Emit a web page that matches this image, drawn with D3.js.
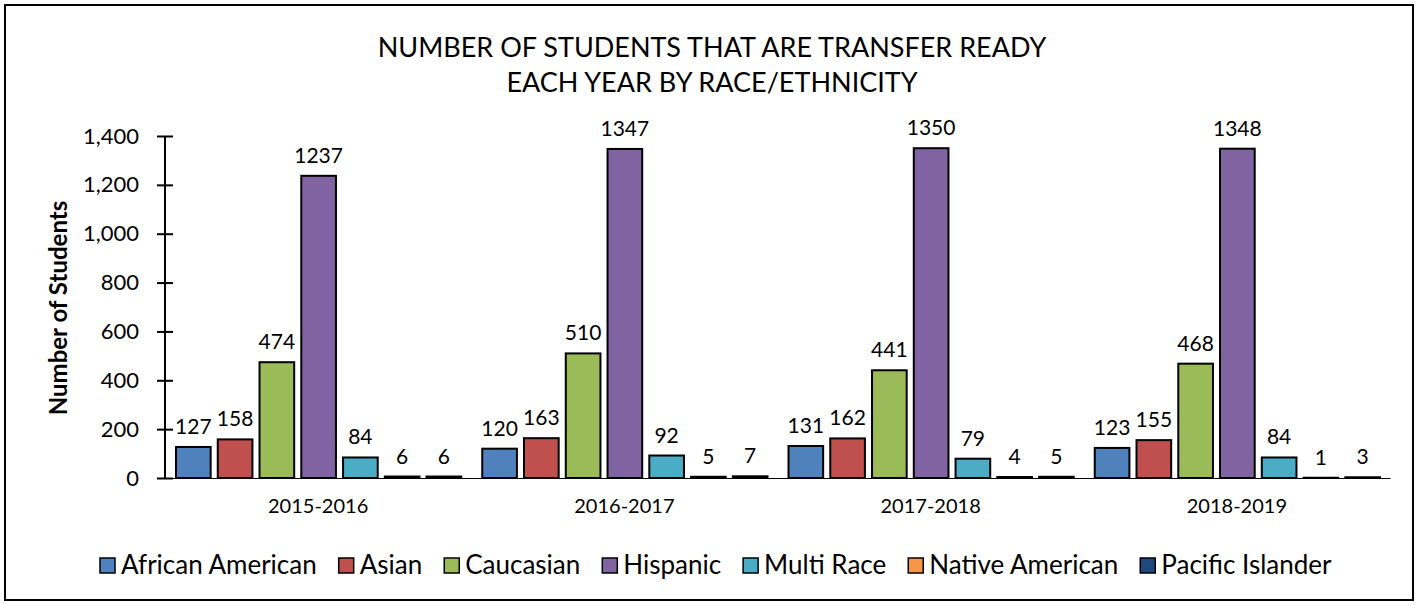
<!DOCTYPE html>
<html lang="en">
<head>
  <meta charset="UTF-8">
  <title>Number of Students That Are Transfer Ready</title>
  <script src="https://d3js.org/d3.v7.min.js"></script>
  <style>
    body { margin: 0; background: #fff; font-family: 'Lato', 'Open Sans', sans-serif; }
    svg { display: block; }
  </style>
</head>
<body>
  <div id="chart"></div>
  <script>
    // Data
    const years = ["2015-2016", "2016-2017", "2017-2018", "2018-2019"];
    const groups = ["African American", "Asian", "Caucasian", "Hispanic", "Multi Race", "Native American", "Pacific Islander"];
    const colors = ["#4F81BD", "#C0504D", "#9BBB59", "#8064A2", "#4BACC6", "#F79646", "#1F497D"];
    const africanAmerican = [127, 120, 131, 123];
    const asian = [158, 163, 162, 155];
    const caucasian = [474, 510, 441, 468];
    const hispanic = [1237, 1347, 1350, 1348];
    const multiRace = [84, 92, 79, 84];
    const nativeAmerican = [6, 5, 4, 1];
    const pacificIslander = [6, 7, 5, 3];
    const yTicks = [0, 200, 400, 600, 800, 1000, 1200, 1400];

    const series = [africanAmerican, asian, caucasian, hispanic, multiRace, nativeAmerican, pacificIslander];

    const W = 1420, H = 605;
    const margin = { top: 136, right: 30, bottom: 127, left: 165 };
    const width = 1390 - margin.left, height = 478 - margin.top;

    const svg = d3.select("#chart").append("svg")
      .attr("width", W).attr("height", H);

    // outer border
    svg.append("rect")
      .attr("x", 5).attr("y", 5).attr("width", 1408).attr("height", 595)
      .attr("fill", "none").attr("stroke", "#000").attr("stroke-width", 2);

    // title
    const title = svg.append("text")
      .attr("text-anchor", "middle")
      .attr("font-size", 27)
      .attr("fill", "#000");
    title.append("tspan").attr("x", 712).attr("y", 57).text("NUMBER OF STUDENTS THAT ARE TRANSFER READY");
    title.append("tspan").attr("x", 712).attr("y", 92).text("EACH YEAR BY RACE/ETHNICITY");

    const g = svg.append("g").attr("transform", `translate(${margin.left},${margin.top})`);

    const x0 = d3.scaleBand().domain(years).range([0, width]).paddingInner(0).paddingOuter(0);
    const x1 = d3.scaleBand().domain(groups).range([11, x0.bandwidth() - 10]).paddingInner(0.17);
    const y = d3.scaleLinear().domain([0, 1400]).range([height, 0]);

    // y axis
    const yAxis = g.append("g")
      .call(d3.axisLeft(y).tickValues(yTicks).tickFormat(d3.format(",")).tickSize(8).tickPadding(18));
    yAxis.selectAll(".tick line").attr("x2", 8).attr("x1", -8).attr("stroke-width", 2);
    yAxis.select(".domain").attr("d", `M0,${height}V0`).attr("stroke-width", 2);
    yAxis.selectAll("text").attr("font-size", 22).attr("fill", "#000").attr("font-family", "Lato, sans-serif");

    // x axis
    const xAxis = g.append("g")
      .attr("transform", `translate(0,${height})`)
      .call(d3.axisBottom(x0).tickSize(0).tickPadding(21));
    xAxis.select(".domain").attr("stroke", "#000").attr("stroke-width", 1.2);
    xAxis.selectAll("text").attr("font-size", 20).attr("fill", "#000").attr("font-family", "Lato, sans-serif");

    // y axis title
    svg.append("text")
      .attr("transform", `translate(67,${margin.top + 172}) rotate(-90)`)
      .attr("text-anchor", "middle")
      .attr("font-size", 24).attr("font-weight", "bold")
      .text("Number of Students");

    // bars
    const yearG = g.selectAll(".year").data(years).join("g")
      .attr("class", "year")
      .attr("transform", d => `translate(${x0(d)},0)`);

    yearG.selectAll("rect")
      .data((yr, i) => groups.map((name, k) => ({ name, k, value: series[k][i] })))
      .join("rect")
      .attr("x", d => x1(d.name))
      .attr("y", d => y(d.value))
      .attr("width", x1.bandwidth())
      .attr("height", d => height - y(d.value))
      .attr("fill", d => colors[d.k])
      .attr("stroke", "#000")
      .attr("stroke-width", 2);

    yearG.selectAll(".lbl")
      .data((yr, i) => groups.map((name, k) => ({ name, k, value: series[k][i] })))
      .join("text")
      .attr("class", "lbl")
      .attr("x", d => x1(d.name) + x1.bandwidth() / 2)
      .attr("y", d => y(d.value) - 13)
      .attr("text-anchor", "middle")
      .attr("font-size", 21)
      .text(d => d.value);

    // legend
    const legend = svg.append("g").attr("transform", "translate(0,574)");
    const items = legend.selectAll("g").data(groups).join("g");
    items.append("rect")
      .attr("width", 15).attr("height", 15).attr("y", -16)
      .attr("fill", (d, i) => colors[i])
      .attr("stroke", "#000").attr("stroke-width", 1.5);
    items.append("text")
      .attr("x", 21).attr("y", 0)
      .attr("font-size", 26)
      .text(d => d);
    let lx = 0;
    const gap = 22;
    const offsets = [];
    items.each(function () {
      offsets.push(lx);
      lx += this.getBBox().width + gap;
    });
    const totalW = lx - gap;
    const startX = 716 - totalW / 2;
    items.attr("transform", (d, i) => `translate(${startX + offsets[i]},0)`);
  </script>
</body>
</html>
